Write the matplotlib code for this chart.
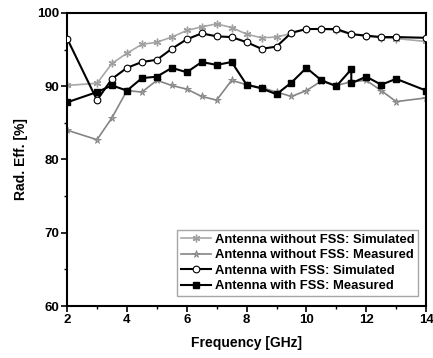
import matplotlib
matplotlib.use("Agg")
import matplotlib.pyplot as plt
from matplotlib.ticker import MultipleLocator

plt.rcParams['font.family'] = ['Liberation Sans', 'DejaVu Sans']
plt.rcParams['font.weight'] = 'bold'

freq = [2, 3, 3.5, 4, 4.5, 5, 5.5, 6, 6.5, 7, 7.5, 8, 8.5, 9, 9.5, 10,
        10.5, 11, 11.5, 12, 12.5, 13, 14]
sim_no_fss = [90.1, 90.4, 93.1, 94.5, 95.7, 96.0, 96.7, 97.6, 98.1, 98.5, 98.0, 97.1,
              96.6, 96.7, 97.2, 97.8, 97.8, 97.6, 97.1, 96.8, 96.6, 96.5, 96.1]
meas_no_fss = [84.0, 82.7, 85.7, 89.4, 89.2, 90.8, 90.1, 89.6, 88.6, 88.1, 90.8, 90.2,
               89.8, 89.2, 88.6, 89.4, 90.7, 90.1, 90.6, 90.8, 89.4, 87.9, 88.4]
sim_fss = [96.5, 88.1, 91.0, 92.5, 93.3, 93.6, 95.1, 96.4, 97.2, 96.8, 96.7, 96.0,
           95.1, 95.4, 97.3, 97.8, 97.8, 97.8, 97.1, 96.9, 96.7, 96.7, 96.6]
freq_meas_fss = [2, 3, 3.5, 4, 4.5, 5, 5.5, 6, 6.5, 7, 7.5, 8, 8.5, 9, 9.5, 10,
                 10.5, 11, 11.5, 11.5, 12, 12.5, 13, 14]
meas_fss = [87.8, 89.2, 90.1, 89.4, 91.1, 91.3, 92.5, 91.9, 93.3, 92.9, 93.3, 90.2,
            89.7, 88.9, 90.5, 92.5, 90.8, 90.0, 92.3, 90.4, 91.3, 90.2, 91.0, 89.4]

labels = ["Antenna without FSS: Simulated", "Antenna without FSS: Measured",
          "Antenna with FSS: Simulated", "Antenna with FSS: Measured"]

fig = plt.figure(figsize=(4.33, 3.58), dpi=100)
ax = fig.add_axes([0.155, 0.145, 0.829, 0.819])

ast = (6, 2, 0)
ax.plot(freq, sim_no_fss, color='#a8a8a8', lw=1.2, marker=ast, ms=5.5,
        mec='#a0a0a0', mew=1.0, label=labels[0], zorder=2)
ax.plot(freq, meas_no_fss, color='#858585', lw=1.2, marker='*', ms=5.5,
        mfc='#a0a0a0', mec='#858585', mew=0.6, label=labels[1], zorder=2)
ax.plot(freq, sim_fss, color='black', lw=1.5, marker='o', ms=4.8,
        mfc='white', mec='black', mew=0.8, label=labels[2], zorder=3)
ax.plot(freq_meas_fss, meas_fss, color='black', lw=1.5, marker='s', ms=4.3,
        mfc='black', mec='black', label=labels[3], zorder=4)

ax.set_xlim(2, 14)
ax.set_ylim(60, 100)
ax.xaxis.set_major_locator(MultipleLocator(2))
ax.xaxis.set_minor_locator(MultipleLocator(1))
ax.yaxis.set_major_locator(MultipleLocator(10))
ax.yaxis.set_minor_locator(MultipleLocator(5))
ax.tick_params(which='major', direction='out', length=4, width=1.2, labelsize=9.5, pad=2)
ax.tick_params(which='minor', direction='out', length=2, width=1.0)
for lab in ax.get_xticklabels() + ax.get_yticklabels():
    lab.set_fontweight('bold')
for s in ax.spines.values():
    s.set_linewidth(1.5)

ax.set_xlabel('Frequency [GHz]', fontsize=10, fontweight='bold', labelpad=7)
ax.set_ylabel('Rad. Eff. [%]', fontsize=10, fontweight='bold', labelpad=6)

leg = ax.legend(loc='lower right', bbox_to_anchor=(0.985, 0.025),
                prop={'weight': 'bold', 'size': 9.4}, frameon=True, fancybox=False,
                edgecolor='#909090', handlelength=2.3, handletextpad=0.3,
                labelspacing=0.25, borderpad=0.3, borderaxespad=0.2)
leg.get_frame().set_linewidth(1.0)

fig.savefig('out.png', dpi=100)
